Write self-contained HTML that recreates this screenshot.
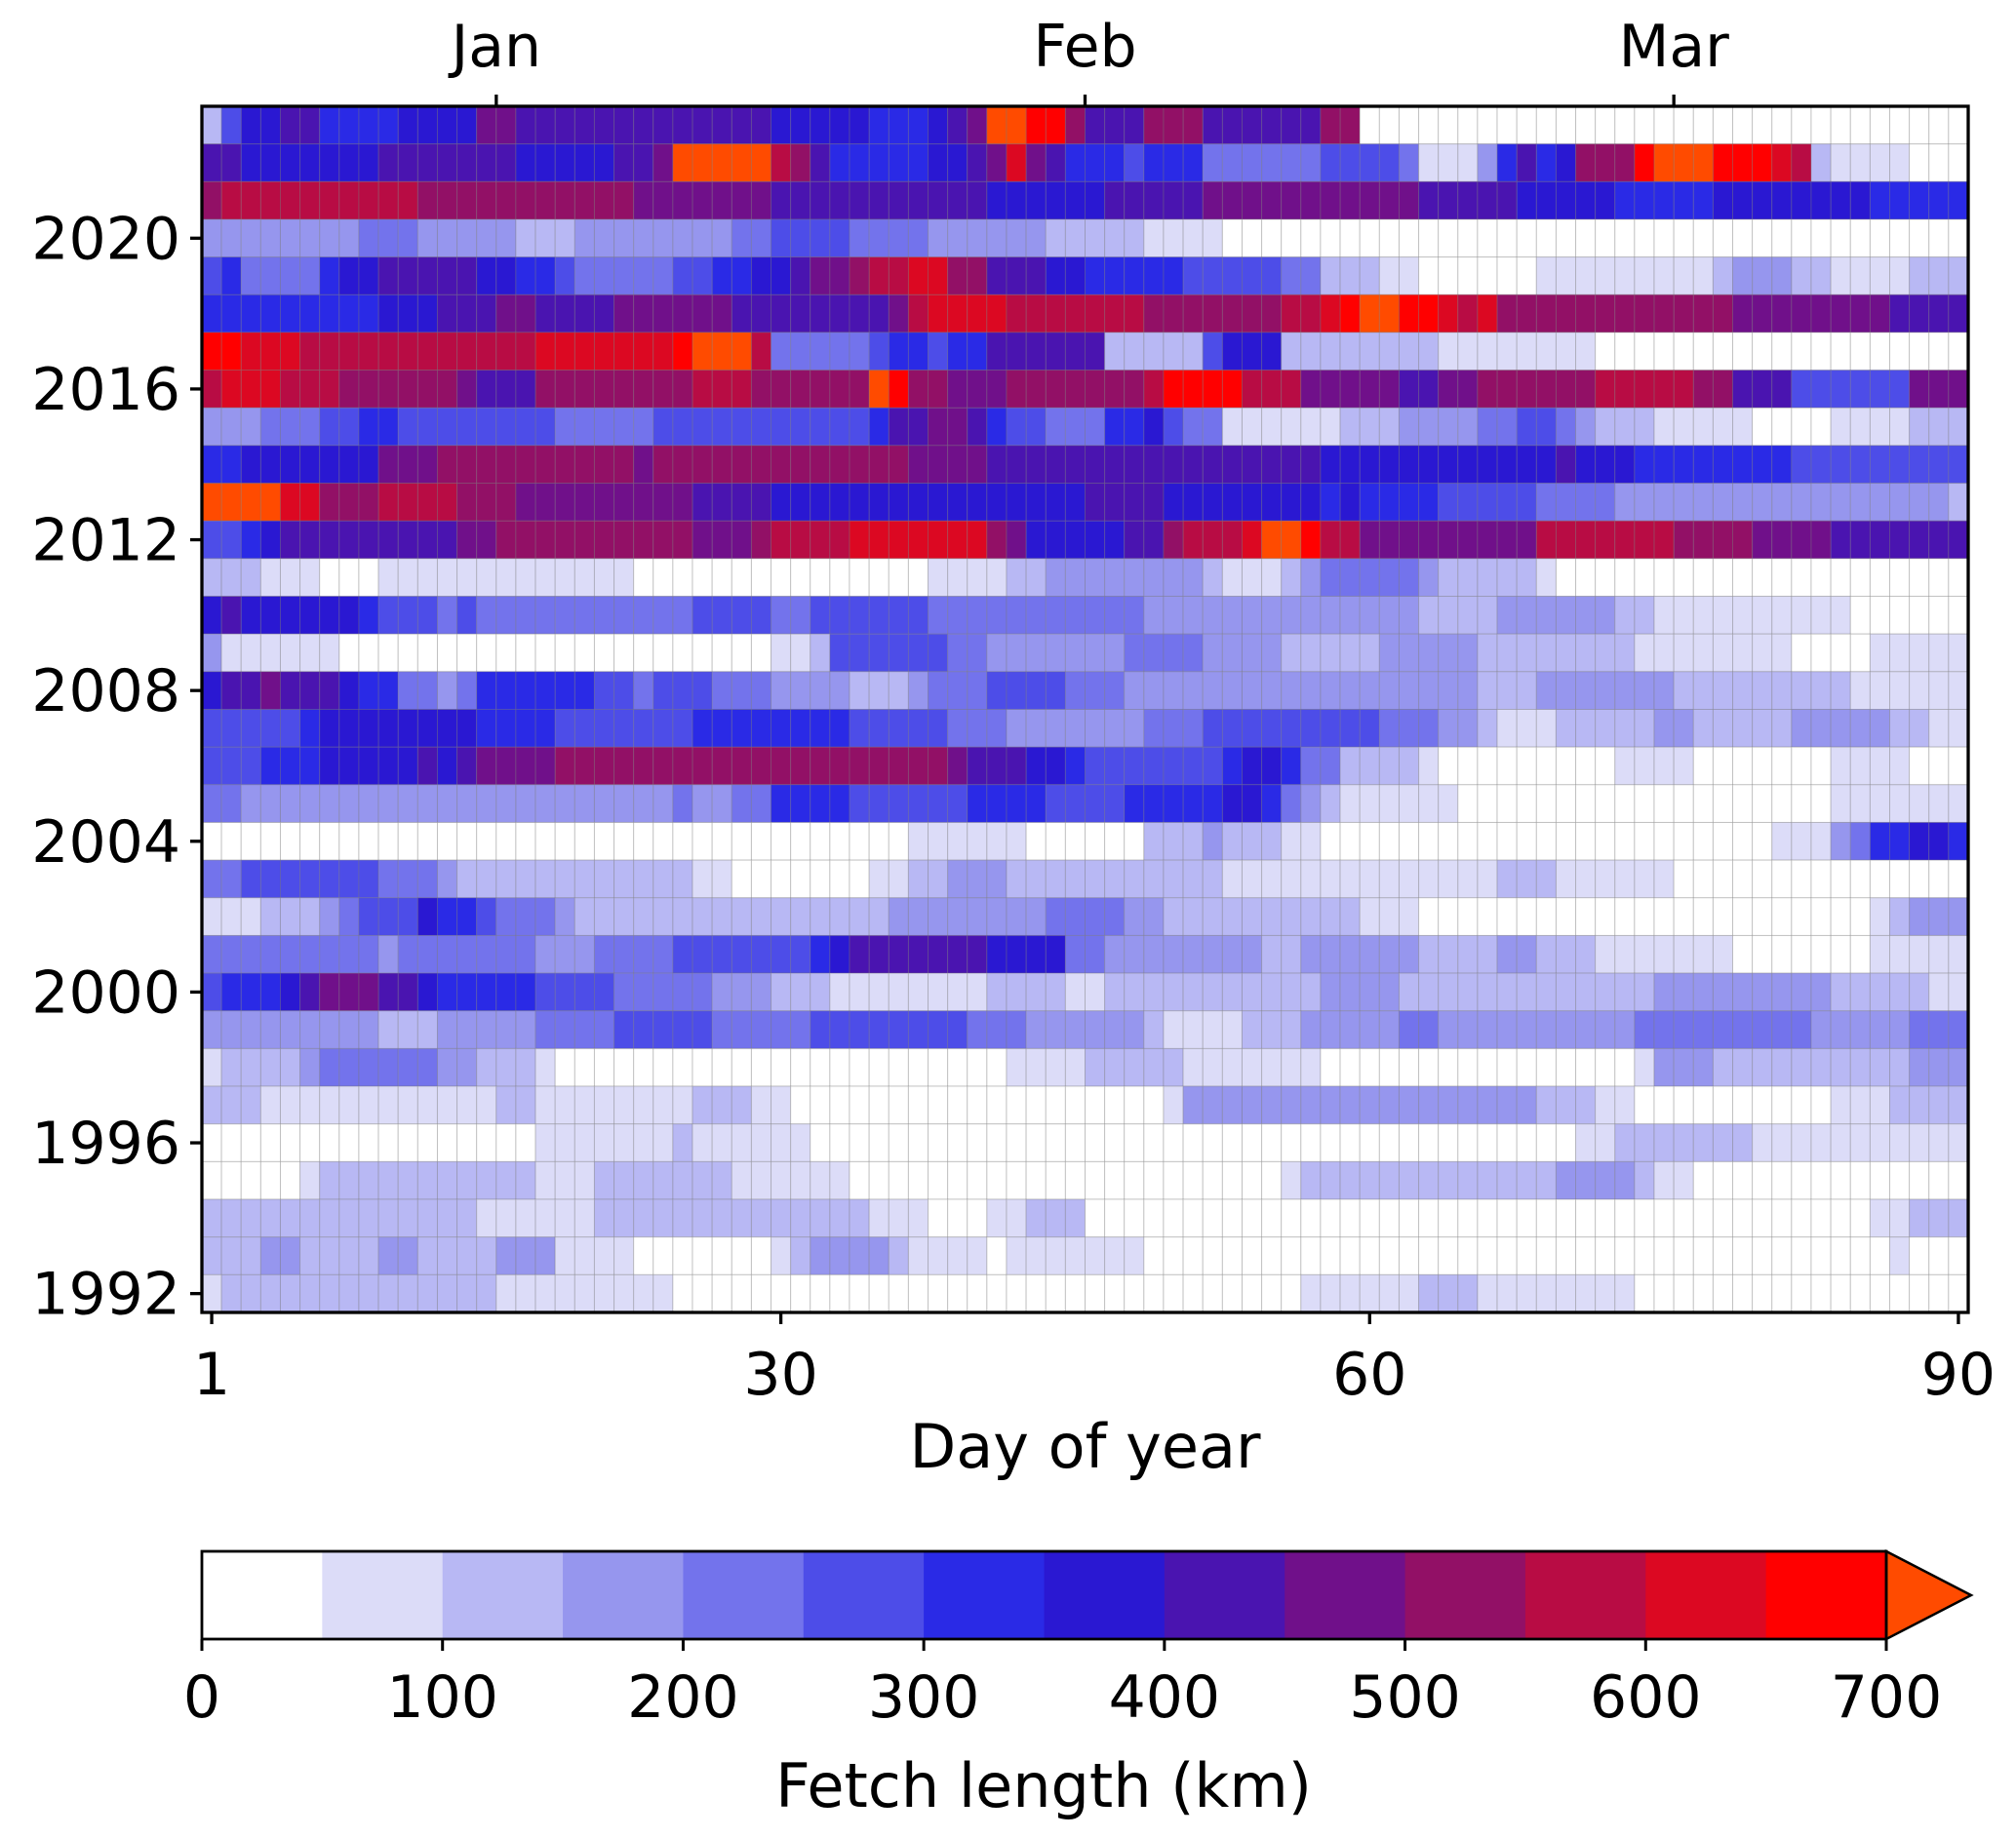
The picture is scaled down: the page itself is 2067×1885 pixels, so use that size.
<!DOCTYPE html>
<html><head><meta charset="utf-8">
<style>
html,body{margin:0;padding:0;background:#fff;}
svg{display:block;}
text{font-family:"DejaVu Sans","Liberation Sans",sans-serif;fill:#000;}
</style></head>
<body>
<svg id="chart" width="2067" height="1885" viewBox="0 0 2067 1885" xmlns="http://www.w3.org/2000/svg">
<g id="cells"></g>
<g id="axes"></g>
<g id="cbar"></g>
</svg>
<script>
// ---- data: per-year fetch-length bin index (0..14, each bin 50 km; 14 = >700 km), run-length "bin*count"
const years = [2023,2022,2021,2020,2019,2018,2017,2016,2015,2014,2013,2012,2011,2010,2009,2008,2007,2006,2005,2004,2003,2002,2001,2000,1999,1998,1997,1996,1995,1994,1993,1992];
const binRuns = [
"2 5 7*2 8*2 6*4 7*4 9*2 8*13 7*5 6*3 7 8 9 14*2 13*2 10 8*3 10*3 8*6 10*2 0*31",
"8*2 7*7 8*7 7*5 8*2 9 14*5 11 10 8 6*5 7*2 8 9 12 9 8 6*3 5 6*3 4*6 5*4 4 1*3 3 6 8 6 7 10*3 13 14*3 13*3 12 11 2 1*4 0*3",
"10 11*10 10*11 9*7 8*11 7*6 8*5 9*11 8*5 7*5 6*5 7*8 6*5",
"3*8 4*3 3*5 2*3 3*8 4*2 5*4 4*4 3*6 2*5 1*4 0*38",
"5 6 4*4 6 7*2 8*5 7*2 6*2 5 4*5 5*2 6*2 7*2 8 9*2 10 11*2 12*2 10*2 8*3 7*2 6*5 5*5 4*2 2*3 1*2 0*6 1*9 2 3*3 2*2 1*4 2*3",
"6*9 7*3 8*3 9*2 8*4 9*6 8*8 9 11 12*4 11*7 10*7 11*2 12 13 14*2 13*2 12 11 12 10*12 9*8 8*4",
"13*2 12*3 11*12 12*7 13 14*3 11 4*5 5 6*2 5 6*2 8*6 2*5 5 7*3 2*8 1*8 0*19",
"11 12*3 11*3 10*6 9 8*3 10*8 11*3 10*6 14 13 10*2 9*3 10*7 11 13*4 11*3 9*5 8*2 9*2 10*6 11*5 10*2 8*3 5*6 9*3",
"3*3 4*3 5*2 6*2 5*8 4*5 5*11 6 8*2 9*2 8 6 5*2 4*3 6*2 7 5 4*2 1*6 2*3 3*4 4*2 5*2 4 3 2*3 1*5 0*4 1*4 2*3",
"6*2 7*7 9*3 10*10 9 10*13 9*4 8*17 7*12 8 7*3 6*8 5*9",
"14*4 12*2 10*3 11*4 10*3 9*9 8*4 7*16 8*4 7*8 6 7 6*4 5*5 4*4 3*17 2",
"5*2 6 7 8*9 9*2 10*10 9*3 10 11*4 12*7 10 9 7*5 8*2 10 11*3 12 14*2 13 11*2 9*9 11*7 10*4 9*4 8*7",
"2*3 1*3 0*3 1*13 0*15 1*4 2*2 3*8 2 1*3 2 3 4*5 3 2*5 1 0*21",
"7 8 7*6 6 5*3 4 5 4*11 5*4 4*2 5*6 4*11 3*14 2*4 3*6 2*2 1*10 0*6",
"3 1*6 0*22 1*2 2 5*6 4*2 3*7 4*4 3*4 2*5 3*5 2*8 1*8 0*4 1*5",
"7 8*2 9 8*3 7 6*2 4*2 3 4 6*6 5*2 4 5*3 4*3 3*4 2*3 3 4*3 5*4 4*3 3*18 2*3 3*7 2*9 1*6",
"5*5 6 7*8 6*4 5*7 6*8 5*5 4*3 3*7 4*3 5*9 4*3 3*2 2 1*3 2*5 3*2 2*5 3*5 2*2 1*2",
"5*3 6*3 7*5 8 7 8 9*4 10*20 9 8*3 7*2 6 5*7 6 7*2 6 4*2 2*4 1 0*9 1*4 0*7 1*4 0*3",
"4*2 3*22 4 3*2 4*2 6*4 5*6 6*4 5*4 6*5 7*2 6 4 3 2 1*6 0*19 1*7",
"0*36 1*6 0*6 2*3 3 2*3 1*2 0*23 1*3 3 4 6*2 7*2 6",
"4*2 5*7 4*3 3 2*12 1*2 0*7 1*2 2*2 3*3 2*11 1*14 2*3 1*6 0*15",
"1*3 2*3 3 4 5*3 7 6*2 5 4*3 3 2*16 3*8 4*4 3*2 2*10 1*3 0*23 1 2 3*3",
"4*9 3 4*7 3*3 4*4 5*7 6 7 8*7 7*4 4*2 3*8 2*2 3*6 2*4 3*2 2*3 1*7 0*7 1*5",
"5 6*3 7 8 9*3 8*2 7 6*5 5*4 4*5 3*3 2*3 1*8 2*4 1*2 2*11 3*4 2*13 3*9 2*5 1*2",
"3*9 2*3 3*5 4*4 5*5 4*5 5*8 4*3 3*6 2 1*4 2*3 3*5 4*2 3*10 4*9 3*5 4*3",
"1 2*4 3 4*6 3*2 2*3 1 0*23 1*4 2*5 1*7 0*16 1 3*3 2*10 3*3",
"2*3 1*12 2*2 1*8 2*3 1*2 0*19 1 3*18 2*3 1*2 0*10 1*3 2*4",
"0*17 1*7 2 1*6 0*39 1*2 2*7 1*11",
"0*5 1 2*11 1*3 2*7 1*6 0*22 1 2*13 3*4 2 1*2 0*14",
"2*14 1*6 2*14 1*3 0*3 1*2 2*3 0*40 1*2 2*3",
"2*3 3*2 2*4 3*2 2*4 3*3 1*4 0*7 1 2 3*4 2 1*4 0 1*7 0*38 1 0*3",
"1 2*14 1*9 0*32 1*6 2*3 1*8 0*17"
];
const xTicks = [1,30,60,90];
const yTicks = [2020,2016,2012,2008,2004,2000,1996,1992];
const monthLabels = ["Jan","Feb","Mar"];
const monthDays = [15.5,45.5,75.5];
const cbTicks = [0,100,200,300,400,500,600,700];
const binColors = ["#ffffff","#dcdcf8","#b8b8f4","#9696ee","#7373ec","#4d4de8","#2a2ae6","#2a18d2","#4a14b0","#70108a","#921066","#b80c44","#dc0822","#ff0000","#ff4b00"];

// expand runs -> km values (bin midpoint)
const fetchKm = binRuns.map(s => {
  const out = [];
  s.trim().split(/\s+/).forEach(tok => {
    const p = tok.split('*'); const b = +p[0]; const n = p.length > 1 ? +p[1] : 1;
    for (let i = 0; i < n; i++) out.push(b * 50 + 25);
  });
  return out;
});

const NS = "http://www.w3.org/2000/svg";
const L = 207, R = 2018, T = 109, B = 1346;
const nDays = 90, nYears = years.length;
const cw = (R - L) / nDays, rh = (B - T) / nYears;
const xOf = d => L + (d - 0.5) * cw;                    // day center
const yOf = yr => T + (years[0] - yr + 0.5) * rh;        // year center
function colorOf(v){ const b = Math.min(14, Math.floor(v / 50)); return binColors[b]; }
function mk(tag, attrs, parent){ const e = document.createElementNS(NS, tag); for (const k in attrs) e.setAttribute(k, attrs[k]); parent.appendChild(e); return e; }

const cells = document.getElementById('cells');
fetchKm.forEach((row, ri) => {
  row.forEach((v, di) => {
    if (di >= nDays) return;
    const r = mk('rect', {x:(xOf(di+1)-cw/2).toFixed(2), y:(yOf(years[ri])-rh/2).toFixed(2), width:cw.toFixed(2), height:rh.toFixed(2), fill:colorOf(v), stroke:'rgba(120,120,120,0.35)', 'stroke-width':1}, cells);
    
    
  });
});

const axes = document.getElementById('axes');
const frame = mk('rect', {x:L, y:T, width:R-L, height:B-T, fill:'none', stroke:'#000', 'stroke-width':3.3}, axes);



xTicks.forEach(d => {
  const x = xOf(d);
  const t = mk('line', {x1:x, y1:B, x2:x, y2:B+12, stroke:'#000', 'stroke-width':3.3}, axes);
  
  
  const lb = mk('text', {x:x, y:1430, 'font-size':60, 'text-anchor':'middle'}, axes);
  lb.textContent = d;
  
  
});
yTicks.forEach(yr => {
  const y = yOf(yr);
  const t = mk('line', {x1:L-12, y1:y, x2:L, y2:y, stroke:'#000', 'stroke-width':3.3}, axes);
  
  
  const lb = mk('text', {x:L-22, y:y+21, 'font-size':60, 'text-anchor':'end'}, axes);
  lb.textContent = yr;
  
  
});
monthLabels.forEach((m, i) => {
  const x = xOf(monthDays[i]);
  const t = mk('line', {x1:x, y1:T-12, x2:x, y2:T, stroke:'#000', 'stroke-width':3.3}, axes);
  
  
  const lb = mk('text', {x:x, y:68, 'font-size':60, 'text-anchor':'middle'}, axes);
  lb.textContent = m;
  
  
});
const xt = mk('text', {x:(L+R)/2, y:1505, 'font-size':62, 'text-anchor':'middle'}, axes);
xt.textContent = 'Day of year';



// colorbar
const cb = document.getElementById('cbar');
const cbL = 207, cbR = 1934, cbT = 1591, cbB = 1681, tip = 2021;
const bw = (cbR - cbL) / 14;
for (let i = 0; i < 14; i++) {
  const r = mk('rect', {x:(cbL + i*bw).toFixed(2), y:cbT, width:(bw+0.6).toFixed(2), height:cbB-cbT, fill:binColors[i]}, cb);
  
  
}
const ext = mk('polygon', {points:`${cbR},${cbT} ${tip},${(cbT+cbB)/2} ${cbR},${cbB}`, fill:binColors[14], stroke:'#000', 'stroke-width':2.5}, cb);


const cbf = mk('rect', {x:cbL, y:cbT, width:cbR-cbL, height:cbB-cbT, fill:'none', stroke:'#000', 'stroke-width':2.8}, cb);


cbTicks.forEach(v => {
  const x = cbL + (v/50) * bw;
  const t = mk('line', {x1:x, y1:cbB, x2:x, y2:cbB+12, stroke:'#000', 'stroke-width':3}, cb);
  
  
  const lb = mk('text', {x:x, y:1761, 'font-size':60, 'text-anchor':'middle'}, cb);
  lb.textContent = v;
  
  
});
const ct = mk('text', {x:1070, y:1853, 'font-size':62, 'text-anchor':'middle'}, cb);
ct.textContent = 'Fetch length (km)';


</script>
</body></html>
